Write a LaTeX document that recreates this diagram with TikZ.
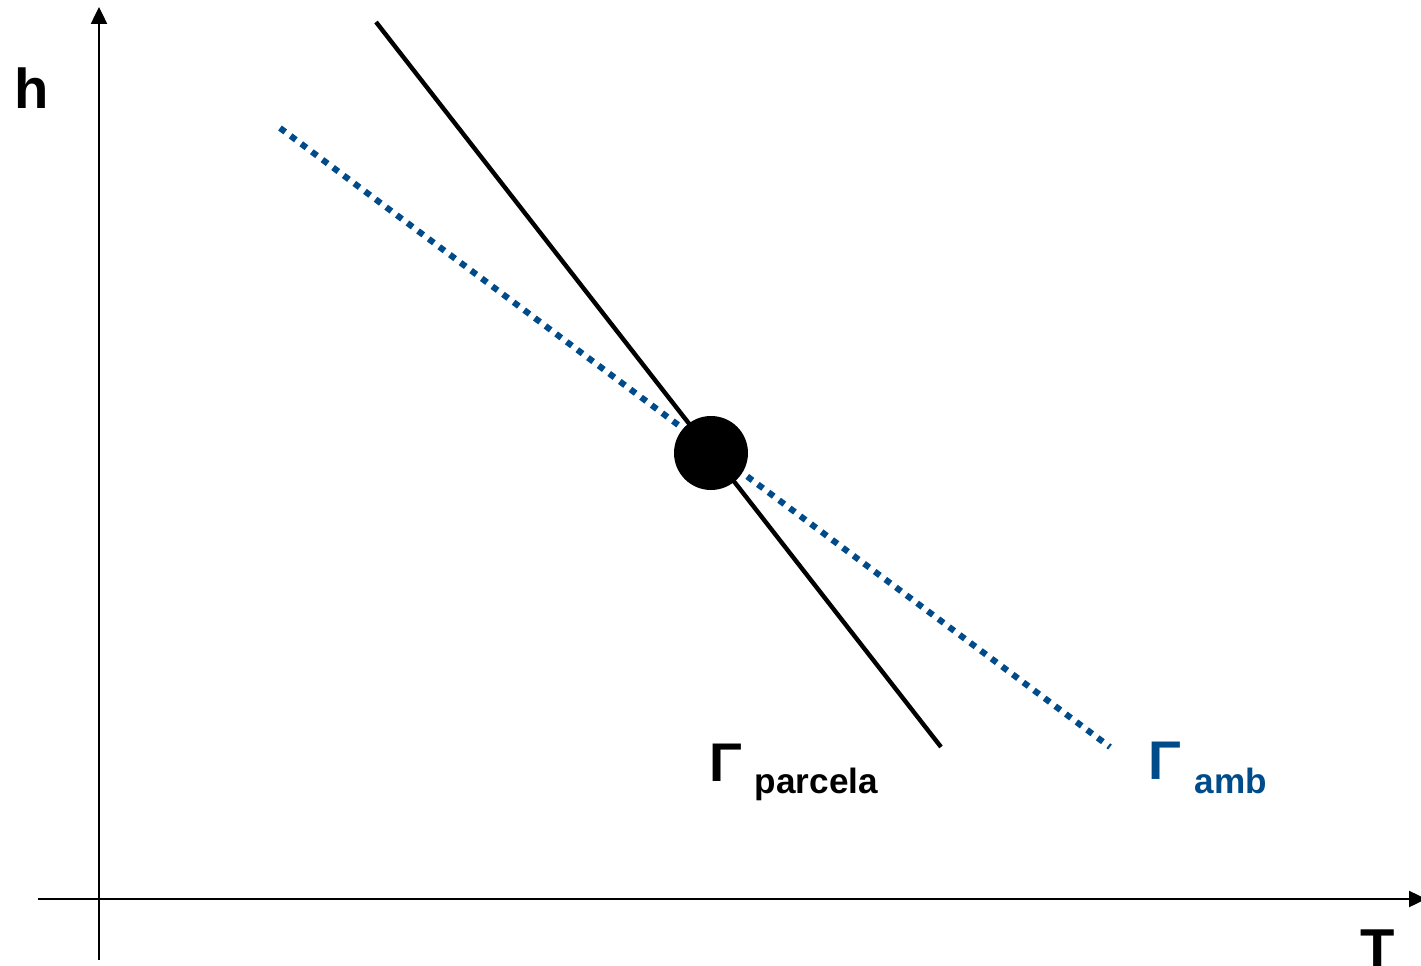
\documentclass[tikz,border=0pt]{standalone}
\usepackage{fontspec}
\setmainfont{Liberation Sans}
\usetikzlibrary{arrows.meta,positioning,calc}
\definecolor{ambblue}{HTML}{004C8A}
\tikzset{
  axis/.style={-{Triangle[length=0.34cm,width=0.32cm]}, line width=1.4pt, color=black},
  parcela/.style={line width=2.5pt, color=black},
  ambline/.style={line width=3.5pt, color=ambblue, dash pattern=on 0.13cm off 0.135cm},
  eqdot/.style={circle, fill=black, minimum size=1.48cm, inner sep=0pt},
  axlbl/.style={font=\fontsize{32}{36}\selectfont\bfseries, inner sep=0pt},
  gamlbl/.style={font=\fontsize{31}{36}\selectfont\bfseries, inner sep=0pt, anchor=base west},
  sublbl/.style={font=\fontsize{20}{24}\selectfont\bfseries, inner sep=0pt, anchor=base west},
}
\begin{document}
\begin{tikzpicture}[x=0.02cm,y=-0.02cm]
  \useasboundingbox (0,0) rectangle (1421,966);
  % axes
  \coordinate (yfoot) at (99,960);
  \coordinate (ytip) at (99,7);
  \coordinate (xfoot) at (38,899);
  \coordinate (xtip) at (1426,899);
  \draw[axis] (yfoot) -- (ytip);
  \draw[axis] (xfoot) -- (xtip);
  \node[axlbl] (hlbl) at (32,88) {h};
  \node[axlbl, anchor=base] (tlbl) at (1378,968) {T};
  % the two gradients
  \coordinate (atop) at (280,128);
  \coordinate (abot) at (1110,747);
  \coordinate (ptop) at (376,22);
  \coordinate (pbot) at (941,747);
  \draw[ambline] (atop) -- (abot);
  \draw[parcela] (ptop) -- (pbot);
  \node[eqdot] (eq) at (711,453) {};
  % labels
  \node[gamlbl] (gpar) at (709,781) {Γ};
  \node[sublbl] (spar) at ($(gpar.base east)+(12,12)$) {parcela};
  \node[gamlbl, text=ambblue] (gamb) at (1148,779) {Γ};
  \node[sublbl, text=ambblue] (samb) at ($(gamb.base east)+(13,14)$) {amb};
\end{tikzpicture}
\end{document}
